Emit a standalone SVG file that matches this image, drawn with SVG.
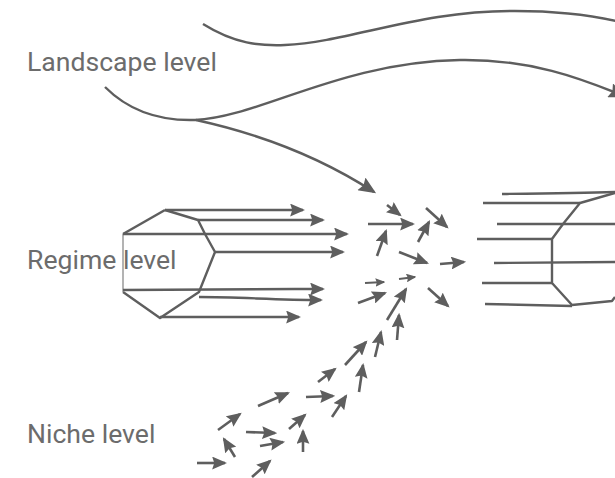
<svg xmlns="http://www.w3.org/2000/svg" width="615" height="478" viewBox="0 0 615 478">
<style>
  .lbl { font-family: Roboto, "Liberation Sans", sans-serif; font-size: 26.6px; fill: #6c6c6c; }
  .ln { fill: none; stroke: #5e5e5e; stroke-width: 2.4; stroke-linejoin: round; }
  .ar { fill: none; stroke: #5e5e5e; stroke-width: 2.4; marker-end: url(#ah); }
  .ab { fill: none; stroke: #5e5e5e; stroke-width: 2.4; marker-end: url(#ahb); }
  .as { fill: none; stroke: #5e5e5e; stroke-width: 2.6; marker-end: url(#ah); }
  .am { fill: none; stroke: #5e5e5e; stroke-width: 2.2; marker-end: url(#ahs); }
</style>
<defs>
  <marker id="ah" viewBox="0 0 14 12" markerWidth="15" markerHeight="13" refX="12" refY="6" orient="auto" markerUnits="userSpaceOnUse">
    <path d="M0,0 L14,6 L0,12 L2,6 z" fill="#5e5e5e"/>
  </marker>
  <marker id="ahb" viewBox="0 0 14 12" markerWidth="18" markerHeight="15" refX="12" refY="6" orient="auto" markerUnits="userSpaceOnUse">
    <path d="M0,0 L14,6 L0,12 L2,6 z" fill="#5e5e5e"/>
  </marker>
  <marker id="ahs" viewBox="0 0 14 12" markerWidth="10" markerHeight="9" refX="12" refY="6" orient="auto" markerUnits="userSpaceOnUse">
    <path d="M0,0 L14,6 L0,12 L2,6 z" fill="#5e5e5e"/>
  </marker>
</defs>

<g id="landscape">
  <text class="lbl" x="27" y="70.5">Landscape level</text>
</g>
<g id="regime">
  <text class="lbl" x="27" y="269">Regime level</text>
  <path class="ln" d="M165,210 L198,220 L205,234 L215,252 L199,292 L160,318 L123,292"/>
  <path class="ln" d="M123,234 L165,210"/>
  <path d="M123,234 L123,292" fill="none" stroke="#8a8a8a" stroke-width="1.3"/>
</g>
<g id="niche">
  <text class="lbl" x="27" y="443">Niche level</text>
</g>
<g id="regime-right">
  <path class="ln" d="M502,194 C540,193.5 580,193 615,192"/>
  <path class="ln" d="M615,193 L580,203 L563,224 L552,239 L552,283 L572,305 L612,301 L615,297"/>
  <path class="ln" d="M483,203 L580,203"/>
  <path class="ln" d="M497,224 L615,224"/>
  <path class="ln" d="M477,239 L552,239"/>
  <path class="ln" d="M494,263 L615,262"/>
  <path class="ln" d="M482,283 L552,283"/>
  <path class="ln" d="M485,304 L572,306"/>
</g>

<g id="connectors">
  <!-- landscape currents -->
  <path class="ln" d="M203,24 C235,44 260,46 285,45 C350,42 420,10 515,11 C560,11 595,16 620,22"/>
  <path class="ab" d="M105,87 C130,112 160,121 195,120 C260,117 340,62 460,60 C530,59 580,78 624,96"/>
  <path class="ab" d="M196,120 C260,134 320,157 374,192"/>
  <!-- regime arrows -->
  <path class="ar" d="M165,210 H303"/>
  <path class="ar" d="M198,220 H323"/>
  <path class="ar" d="M123,234 H347"/>
  <path class="ar" d="M215,252 H343"/>
  <path class="ar" d="M123,290 C200,290 260,289 323,289"/>
  <path class="ar" d="M199,297 C240,297 275,300 321,300"/>
  <path class="ar" d="M160,317 H299"/>
  <!-- scattered arrows -->
  <path class="as" d="M387,205 L400,215"/>
  <path class="as" d="M368,224 L413,224"/>
  <path class="as" d="M426,208 L447,227"/>
  <path class="as" d="M418,242 L429,222"/>
  <path class="as" d="M377,256 L386,231"/>
  <path class="as" d="M399,252 L427,263"/>
  <path class="as" d="M440,264 L464,262"/>
  <path class="am" d="M365,283 L384,282"/>
  <path class="am" d="M399,279 L415,277"/>
  <path class="as" d="M358,303 L385,293"/>
  <path class="as" d="M387,320 L406,289"/>
  <path class="as" d="M428,288 L448,306"/>
  <path class="as" d="M397,340 L399,315"/>
  <path class="as" d="M375,357 L381,332"/>
  <path class="as" d="M345,365 L366,342"/>
  <path class="as" d="M359,392 L363,365"/>
  <path class="as" d="M318,382 L335,369"/>
  <path class="as" d="M306,397 L333,396"/>
  <path class="as" d="M332,417 L346,396"/>
  <path class="as" d="M258,406 L288,393"/>
  <path class="as" d="M218,430 L240,414"/>
  <path class="as" d="M246,432 L275,433"/>
  <path class="as" d="M260,446 L283,442"/>
  <path class="as" d="M289,429 L305,415"/>
  <path class="as" d="M303,452 L303,431"/>
  <path class="as" d="M235,457 L224,439"/>
  <path class="as" d="M197,463 L225,463"/>
  <path class="as" d="M252,477 L270,461"/>
</g>
</svg>
